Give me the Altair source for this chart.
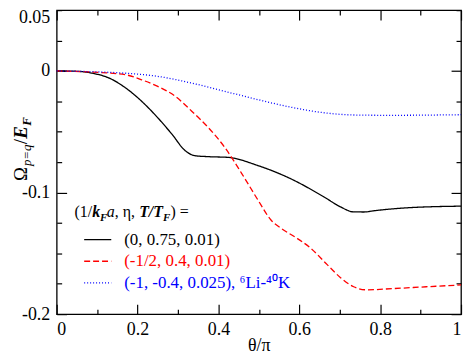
import altair as alt
import pandas as pd

# ---- data ----
x_black = [0, 0.05, 0.09, 0.13, 0.171, 0.21, 0.25, 0.285, 0.318, 0.342, 0.375, 0.424,
           0.4975, 0.579, 0.661, 0.702, 0.734, 0.76, 0.784, 0.865, 1.0]
y_black = [0, -0.0003, -0.002, -0.0059, -0.0141, -0.0249, -0.0385, -0.052, -0.0656, -0.0697,
           -0.0705, -0.0711, -0.0778, -0.0887, -0.1036, -0.1118, -0.1159, -0.116, -0.115,
           -0.1126, -0.1112]

x_red = [0, 0.089, 0.171, 0.21, 0.25, 0.293, 0.334, 0.375, 0.416, 0.457, 0.4975, 0.53,
         0.555, 0.5875, 0.628, 0.669, 0.702, 0.7345, 0.767, 0.8325, 0.914, 1.0]
y_red = [0, -0.001, -0.0032, -0.0073, -0.0127, -0.0208, -0.0331, -0.0466, -0.063, -0.084,
         -0.106, -0.1226, -0.1294, -0.1362, -0.1457, -0.1593, -0.170, -0.1775, -0.180,
         -0.179, -0.1775, -0.176]

x_blue = [0, 0.171, 0.2525, 0.334, 0.416, 0.4975, 0.579, 0.661, 0.743, 0.824, 1.0]
y_blue = [0, -0.0019, -0.0046, -0.010, -0.0168, -0.0236, -0.0298, -0.0344, -0.0363,
          -0.0365, -0.036]

series_names = ["black", "red", "blue"]
series_colors = ["#000000", "#ff0000", "#0000ff"]
series_dash = [[1, 0], [6, 3], [1, 2]]
legend_labels = ["(0, 0.75, 0.01)", "(-1/2, 0.4, 0.01)", "(-1, -0.4, 0.025), \u2076Li-\u2074\u2070K"]
legend_y = [-0.1387, -0.1565, -0.1743]
legend_x = [0.068, 0.135]

x_major = [0, 0.2, 0.4, 0.6, 0.8, 1]
x_minor = [0.1, 0.3, 0.5, 0.7, 0.9]
y_labels = [0.05, 0, -0.1, -0.2]
y_major = [0, -0.1, -0.2]
y_minor = [0.05, 0.025, -0.025, -0.05, -0.075, -0.125, -0.15, -0.175]

W, H = 407, 306
FONT = "Liberation Serif, Times New Roman, Times, serif"

rows = []
for name, xs_, ys_ in zip(series_names, [x_black, x_red, x_blue], [y_black, y_red, y_blue]):
    for a, b in zip(xs_, ys_):
        rows.append({"series": name, "x": a, "y": b})
df = pd.DataFrame(rows)

xs = alt.Scale(domain=[0, 1], nice=False, zero=False)
ys = alt.Scale(domain=[-0.2, 0.05], nice=False, zero=False)

fmt = "(datum.value < 0 ? '-' : '') + format(abs(datum.value), '~g')"


def axis_layer(xaxis, yaxis):
    return alt.Chart(df).mark_point(opacity=0).encode(
        x=alt.X("x:Q", scale=xs, axis=xaxis),
        y=alt.Y("y:Q", scale=ys, axis=yaxis),
    )


def tick_axis(values, orient, size):
    return alt.Axis(values=values, orient=orient, labels=False, domain=False, grid=False,
                    ticks=True, tickSize=size, offset=-size, title=None,
                    tickColor="black", tickWidth=1.2)


label_layer = axis_layer(
    alt.Axis(values=x_major, orient="bottom", ticks=False, domain=False, grid=False,
             labelExpr=fmt, labelPadding=7, labelFont=FONT, labelFontSize=18,
             labelColor="black", title="\u03b8/\u03c0", titleFont=FONT, titleFontSize=18,
             titleFontWeight="normal", titleColor="black", titlePadding=-2),
    alt.Axis(values=y_labels, orient="left", ticks=False, domain=False, grid=False,
             labelExpr=fmt, labelPadding=7, labelFont=FONT, labelFontSize=18,
             labelColor="black", title=None,
             labelOffset={"condition": {"test": "datum.value > 0.04", "value": 7}, "value": 0}),
)
bl_major = axis_layer(tick_axis(x_major, "bottom", 10), tick_axis(y_major, "left", 10))
bl_minor = axis_layer(tick_axis(x_minor, "bottom", 5), tick_axis(y_minor, "left", 5))
tr_major = axis_layer(tick_axis(x_major, "top", 10), tick_axis(y_major, "right", 10))
tr_minor = axis_layer(tick_axis(x_minor, "top", 5), tick_axis(y_minor, "right", 5))

line_layers = []
for name, col, dash in zip(series_names, series_colors, series_dash):
    line_layers.append(
        alt.Chart(df).transform_filter(alt.datum.series == name)
        .mark_line(color=col, strokeWidth=1.3, strokeDash=dash, interpolate="monotone")
        .encode(x=alt.X("x:Q", scale=xs, axis=None), y=alt.Y("y:Q", scale=ys, axis=None))
    )

leg_rows = []
for name, yy in zip(series_names, legend_y):
    leg_rows.append({"series": name, "x": legend_x[0], "x2": legend_x[1], "y": yy})
leg_df = pd.DataFrame(leg_rows)
leg_layers = []
for name, col, dash, lab in zip(series_names, series_colors, series_dash, legend_labels):
    base = alt.Chart(leg_df).transform_filter(alt.datum.series == name)
    leg_layers.append(
        base.mark_rule(color=col, strokeWidth=1.3, strokeDash=dash).encode(
            x=alt.X("x:Q", scale=xs, axis=None), x2="x2:Q",
            y=alt.Y("y:Q", scale=ys, axis=None))
    )
    leg_layers.append(
        base.mark_text(align="left", baseline="middle", font=FONT, fontSize=17, color=col,
                       dx=68 - legend_x[1] * W).encode(
            x=alt.X("x2:Q", scale=xs, axis=None),
            y=alt.Y("y:Q", scale=ys, axis=None), text=alt.value(lab))
    )

one = pd.DataFrame({"k": [0]})


def txt(s, x, y, size, style="normal", weight="normal", angle=0):
    kw = dict(align="left", baseline="alphabetic", font=FONT, fontSize=size,
              fontStyle=style, fontWeight=weight, color="black")
    if angle:
        kw["angle"] = angle
    return alt.Chart(one).mark_text(**kw).encode(
        x=alt.value(x), y=alt.value(y), text=alt.value(s))


# legend header "(1/k_F a, η, T/T_F) ="
hb = 208
header = [
    txt("(1/", 18, hb, 16),
    txt("k", 35.8, hb, 16, "italic", "bold"),
    txt("F", 43.5, hb + 4, 11, "italic", "bold"),
    txt("a", 50.5, hb, 16, "italic"),
    txt(", \u03b7, ", 58.5, hb, 16),
    txt("T/T", 83, hb, 16, "italic", "bold"),
    txt("F", 107, hb + 4, 11, "italic", "bold"),
    txt(") =", 114.5, hb, 16),
]

# y title  Ω_{p=q}/E_F (rotated)
tx = -30
yt = [
    txt("\u03a9", tx, 172, 19, angle=270),
    txt("p=q", tx + 4.5, 157, 13, "italic", angle=270),
    txt("/", tx, 135, 19, angle=270),
    txt("E", tx, 129.5, 19, "italic", "bold", angle=270),
    txt("F", tx + 4.5, 116.5, 13, "italic", "bold", angle=270),
]

chart = alt.layer(
    label_layer, bl_major, bl_minor, tr_major, tr_minor,
    *line_layers, *leg_layers, *header, *yt
).resolve_axis(x="independent", y="independent").properties(
    width=W, height=H,
    autosize=alt.AutoSizeParams(type="none"),
    padding={"left": 49, "top": 1, "right": 2, "bottom": 41},
).configure_view(stroke="black", strokeWidth=1.3).configure_axis(grid=False)

chart.save("out.html", embed_options={"renderer": "svg", "actions": False})
